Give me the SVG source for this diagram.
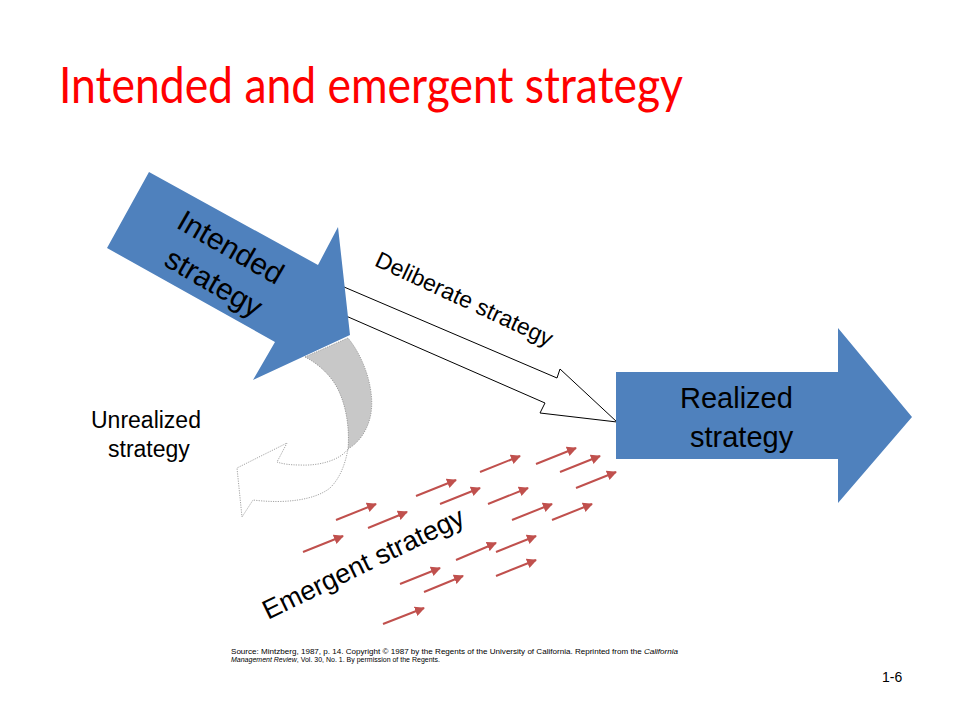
<svg xmlns="http://www.w3.org/2000/svg" width="960" height="720" viewBox="0 0 960 720">
<defs>
<style>
.lbl{font-family:"Liberation Sans",Arial,sans-serif;fill:#000}
.blue{fill:#4F81BD}
.dot{stroke:#8c8c8c;stroke-width:0.8;stroke-dasharray:1.2 1.2}
.em{stroke:#C0504D;stroke-width:2;fill:none;marker-end:url(#rh)}
</style>
<marker id="rh" viewBox="0 0 10 10" refX="9" refY="5" markerWidth="5" markerHeight="5" orient="auto" markerUnits="strokeWidth">
<path d="M0,0 L10,5 L0,10 Z" fill="#C0504D"/>
</marker>
</defs>
<rect width="960" height="720" fill="#fff"/>
<text x="59" y="103" font-family="Lato,'Noto Sans',sans-serif" font-size="50" fill="#FF0000" textLength="624" lengthAdjust="spacingAndGlyphs">Intended and emergent strategy</text>

<g id="connectors">
<path id="deliberate" d="M330,281 L557,378 L560,369 L617,422 L540,413 L545,403 L330,309 Z" fill="#fff" stroke="#000" stroke-width="1"/>
<path id="unrealized-back" class="dot" d="M305,357 L348,338 C366,360 376,395 370,418 C366,433 358,443 348,449 C350,425 345,398 333,381 C325,370 315,362 305,357 Z" fill="#C8C8C8"/>
<path id="unrealized-front" class="dot" d="M348,449 C340,460 320,466 300,465 C290,465 283,464 277,462 L287,443 L237,468 L242,517 L253,500 C285,504 315,500 330,488 C340,478 345,465 348,449 Z" fill="#fff"/>
<g id="emergent-arrows">
<line class="em" x1="303" y1="552" x2="343" y2="536"/>
<line class="em" x1="336" y1="520" x2="376" y2="504"/>
<line class="em" x1="368" y1="528" x2="407" y2="512"/>
<line class="em" x1="416" y1="496" x2="456" y2="480"/>
<line class="em" x1="440" y1="504" x2="480" y2="488"/>
<line class="em" x1="480" y1="472" x2="520" y2="456"/>
<line class="em" x1="488" y1="504" x2="528" y2="488"/>
<line class="em" x1="536" y1="464" x2="576" y2="448"/>
<line class="em" x1="560" y1="472" x2="600" y2="456"/>
<line class="em" x1="576" y1="488" x2="616" y2="472"/>
<line class="em" x1="512" y1="520" x2="552" y2="504"/>
<line class="em" x1="552" y1="520" x2="592" y2="504"/>
<line class="em" x1="456" y1="560" x2="496" y2="543"/>
<line class="em" x1="496" y1="552" x2="536" y2="536"/>
<line class="em" x1="400" y1="584" x2="440" y2="568"/>
<line class="em" x1="424" y1="592" x2="463" y2="576"/>
<line class="em" x1="496" y1="576" x2="536" y2="560"/>
<line class="em" x1="383" y1="624" x2="424" y2="608"/>
</g>
</g>

<g id="intended">
<path class="blue" d="M149,172 L318,265 L338,227 L350,335 L253,380 L275,342 L107,248 Z"/>
<g transform="translate(175,227) rotate(30)">
<text class="lbl" x="0" y="0" font-size="30">Intended</text>
<text class="lbl" x="8" y="39" font-size="30">strategy</text>
</g>
</g>

<g id="realized">
<path class="blue" d="M616,372 L838,372 L838,328 L912,417 L838,503 L838,459 L616,459 Z"/>
<text class="lbl" x="680" y="408" font-size="29">Realized</text>
<text class="lbl" x="690" y="447" font-size="29">strategy</text>
</g>

<g id="labels">
<text class="lbl" font-size="23" transform="translate(461,306) rotate(25)" text-anchor="middle">Deliberate  strategy</text>
<text class="lbl" x="91" y="428" font-size="23">Unrealized</text>
<text class="lbl" x="108" y="457" font-size="23">strategy</text>
<text class="lbl" font-size="27" transform="translate(268,620) rotate(-26)">Emergent strategy</text>
</g>

<g id="footer">
<text class="lbl" x="231" y="654" font-size="7" textLength="447" lengthAdjust="spacingAndGlyphs">Source: Mintzberg, 1987,  p. 14. Copyright © 1987 by the Regents of the University of California. Reprinted from the <tspan font-style="italic">California</tspan></text>
<text class="lbl" x="231" y="662" font-size="7"><tspan font-style="italic">Management  Review</tspan>, Vol. 30, No. 1. By permission of the Regents.</text>
<text class="lbl" x="882" y="682" font-size="14">1-6</text>
</g>
</svg>
